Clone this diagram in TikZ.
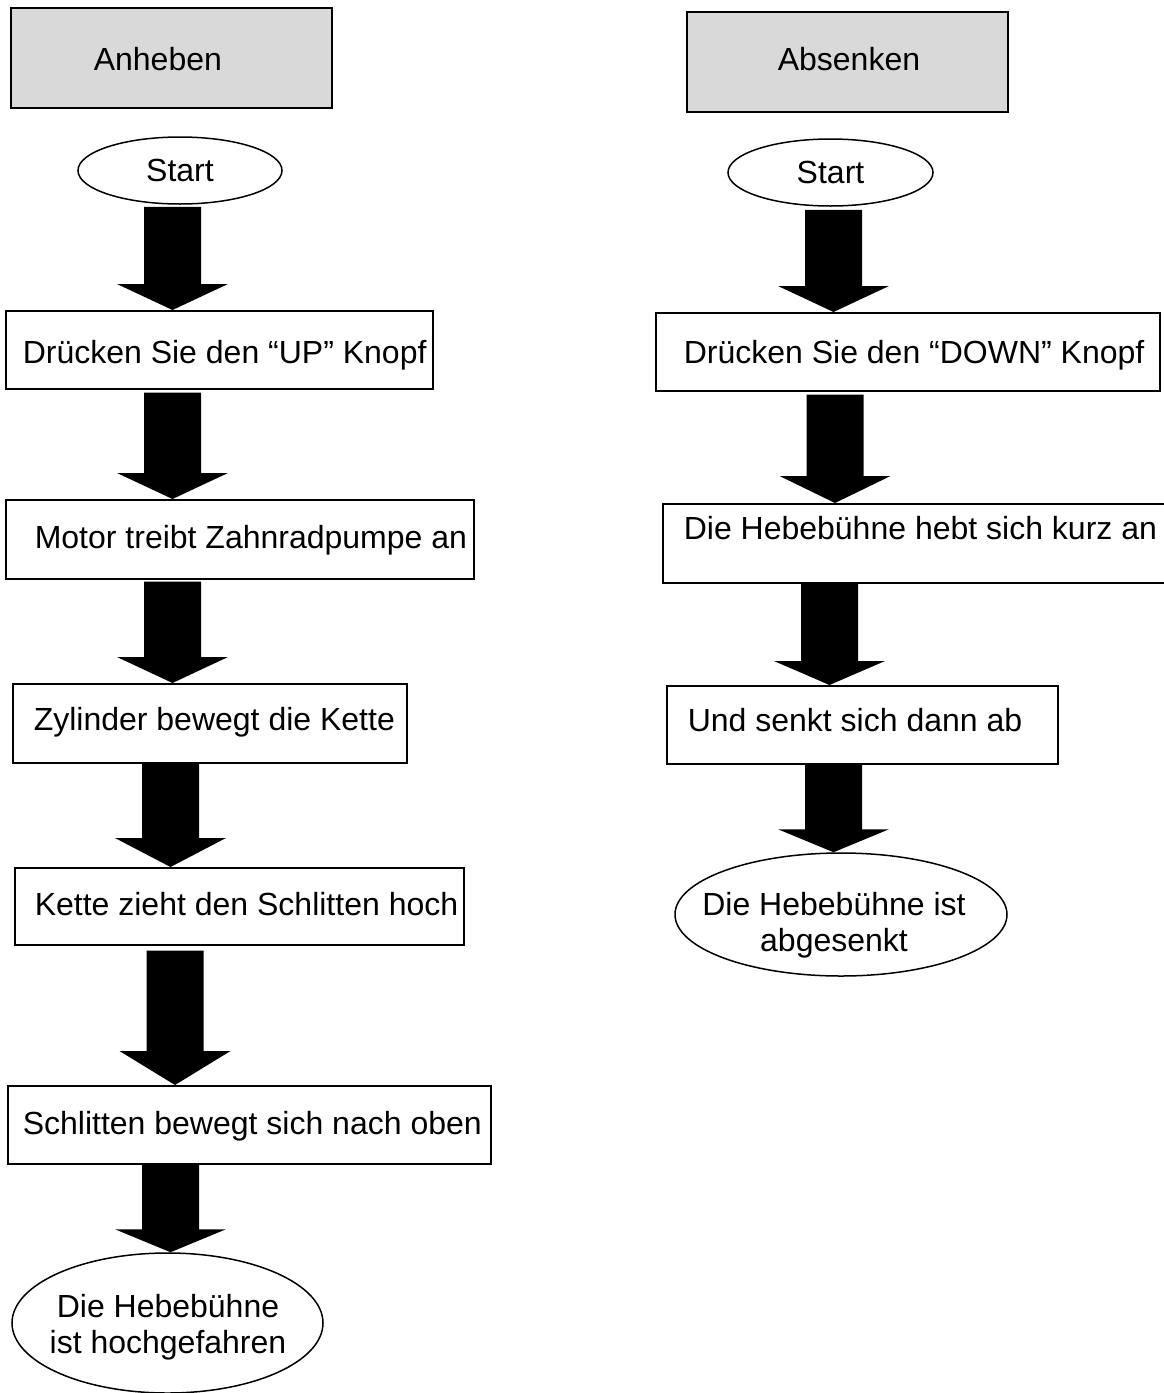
\documentclass[tikz,border=0pt]{standalone}
\usepackage{fontspec}
\setmainfont{Liberation Sans}
\usetikzlibrary{shapes.geometric,calc}
\definecolor{hdrgray}{RGB}{217,217,217}
\newcommand{\blockarrow}[5]{% #1 x centre, #2 from, #3 to, #4 head length, #5 top gap
  \fill let \p1=(#2.south), \p2=(#3.north) in
    ({#1pt-28.5pt},{\y1-#5pt}) -- ({#1pt+28.5pt},{\y1-#5pt}) --
    ({#1pt+28.5pt},{\y2+#4pt}) -- ({#1pt+55.5pt},{\y2+#4pt}) --
    (#1pt,\y2) --
    ({#1pt-55.5pt},{\y2+#4pt}) -- ({#1pt-28.5pt},{\y2+#4pt}) -- cycle;}
\begin{document}
\begin{tikzpicture}[x=1pt,y=-1pt,
  every node/.style={font=\fontsize{32}{36}\selectfont},
  fbox/.style={draw, line width=1.6pt, rectangle, inner sep=0pt, anchor=north west},
  hbox/.style={fbox, fill=hdrgray},
  oval/.style={draw, line width=1.5pt, ellipse, inner sep=0pt},
  ovaltext/.style={inner sep=0pt, align=center}]
\useasboundingbox (0,0) rectangle (1163,1393);

% ---------- left column: Anheben ----------
\node[hbox, text height=63pt, text depth=37pt] (hA) at (10,7)
  {\makebox[321pt][l]{\hspace{83pt}Anheben}};
\node[oval, minimum width=204pt, minimum height=67pt] (sA) at (180,170.5) {Start};
\node[fbox, text height=53pt, text depth=25pt] (b1) at (5,310)
  {\makebox[427pt][l]{\hspace{17pt}Drücken Sie den “UP” Knopf}};
\node[fbox, text height=49pt, text depth=30pt] (b2) at (5,499)
  {\makebox[468pt][l]{\hspace{29pt}Motor treibt Zahnradpumpe an}};
\node[fbox, text height=47pt, text depth=32pt] (b3) at (12,683)
  {\makebox[394pt][l]{\hspace{21pt}Zylinder bewegt die Kette}};
\node[fbox, text height=48pt, text depth=29pt] (b4) at (14,867)
  {\makebox[449pt][l]{\hspace{20pt}Kette zieht den Schlitten hoch}};
\node[fbox, text height=49pt, text depth=29pt] (b5) at (7,1085)
  {\makebox[483pt][l]{\hspace{15pt}Schlitten bewegt sich nach oben}};
\node[oval, minimum width=311pt, minimum height=140pt] (eA) at (167.5,1323) {};
\node[ovaltext] (tA) at (168,1327) {Die Hebebühne\\ist hochgefahren};

\blockarrow{172.5}{sA}{b1}{26}{2}
\blockarrow{172.5}{b1}{b2}{26}{3}
\blockarrow{172.5}{b2}{b3}{26}{2}
\blockarrow{170.5}{b3}{b4}{29}{0}
\blockarrow{175}{b4}{b5}{34}{5}
\blockarrow{170.5}{b5}{eA}{23}{0}

% ---------- right column: Absenken ----------
\node[hbox, text height=59pt, text depth=41pt] (hB) at (686,11)
  {\makebox[321pt][l]{\hspace{91pt}Absenken}};
\node[oval, minimum width=205pt, minimum height=67pt] (sB) at (830.5,172.5) {Start};
\node[fbox, text height=51pt, text depth=27pt] (c1) at (655,312)
  {\makebox[504pt][l]{\hspace{28pt}Drücken Sie den “DOWN” Knopf}};
\node[fbox, text height=36pt, text depth=43pt] (c2) at (662,503)
  {\makebox[510pt][l]{\hspace{21pt}Die Hebebühne hebt sich kurz an}};
\node[fbox, text height=46pt, text depth=32pt] (c3) at (666,685)
  {\makebox[391pt][l]{\hspace{21pt}Und senkt sich dann ab}};
\node[oval, minimum width=332pt, minimum height=123pt] (eB) at (841,914.5) {};
\node[ovaltext] (tB) at (834,925) {Die Hebebühne ist\\abgesenkt};

\blockarrow{833.5}{sB}{c1}{26}{3}
\blockarrow{835}{c1}{c2}{27}{3}
\blockarrow{829.5}{c2}{c3}{24}{0}
\blockarrow{833.5}{c3}{eB}{23}{0}
\end{tikzpicture}
\end{document}
